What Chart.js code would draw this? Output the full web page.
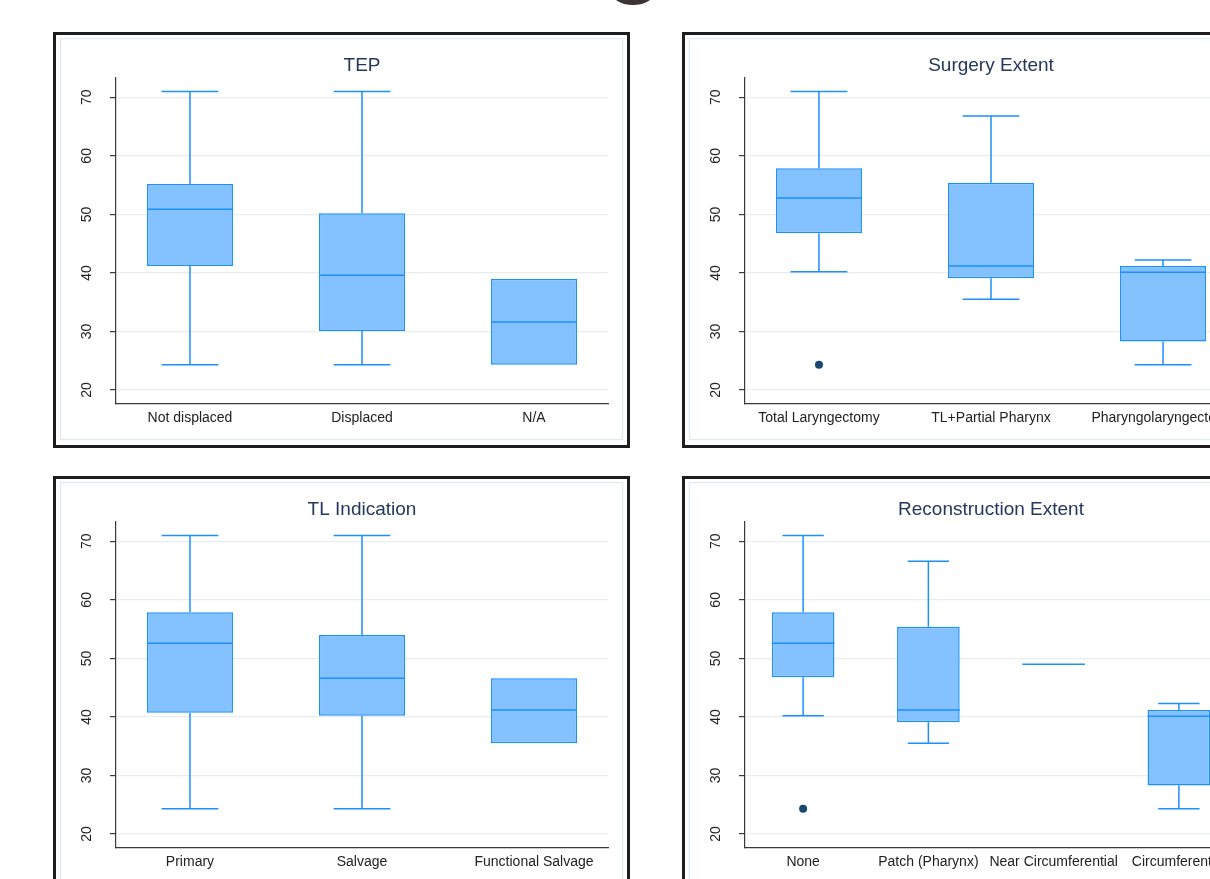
<!DOCTYPE html>
<html>
<head>
<meta charset="utf-8">
<title>Age by clinical group</title>
<script src="https://cdn.jsdelivr.net/npm/chart.js@4.4.1/dist/chart.umd.min.js"></script>
<style>
  html, body { margin: 0; padding: 0; background: #ffffff; }
  body { width: 1210px; height: 879px; overflow: hidden; position: relative; }
  .panel { position: absolute; width: 577px; height: 416px; box-sizing: border-box;
           border: 3px solid #1d1d1d; background: #ffffff; }
  .panel canvas { position: absolute; left: 0; top: 0; }
  .cap-mark { position: absolute; left: 613px; top: -17px; width: 40px; height: 22px;
              border-radius: 50%; background: #3b3432; }
</style>
</head>
<body>
<div class="cap-mark"></div>
<div class="panel" style="left:53px;top:32px"><canvas id="tep" width="571" height="410"></canvas></div>
<div class="panel" style="left:682px;top:32px"><canvas id="surgery" width="571" height="410"></canvas></div>
<div class="panel" style="left:53px;top:476px"><canvas id="indication" width="571" height="410"></canvas></div>
<div class="panel" style="left:682px;top:476px"><canvas id="reconstruction" width="571" height="410"></canvas></div>

<script>
// Shared value axis (age, years)
const yTicks = [20, 30, 40, 50, 60, 70];

// TEP
const tepGroups = ['Not displaced', 'Displaced', 'N/A'];
const tepLow    = [24.3, 24.3, 24.3];
const tepQ1     = [41.2, 30.1, 24.3];
const tepMedian = [50.9, 39.6, 31.6];
const tepQ3     = [55.2, 50.2, 39.0];
const tepHigh   = [71.0, 71.0, 39.0];
const tepOutliers = [];

// Surgery Extent
const surgeryGroups = ['Total Laryngectomy', 'TL+Partial Pharynx', 'Pharyngolaryngectomy'];
const surgeryLow    = [40.2, 35.5, 24.3];
const surgeryQ1     = [46.8, 39.1, 28.3];
const surgeryMedian = [52.8, 41.2, 40.1];
const surgeryQ3     = [57.9, 55.4, 41.2];
const surgeryHigh   = [71.0, 66.8, 42.2];
const surgeryOutliers = [{ x: 1, y: 24.3 }];

// TL Indication
const indicationGroups = ['Primary', 'Salvage', 'Functional Salvage'];
const indicationLow    = [24.3, 24.3, 35.5];
const indicationQ1     = [40.7, 40.2, 35.5];
const indicationMedian = [52.6, 46.6, 41.2];
const indicationQ3     = [57.9, 54.0, 46.6];
const indicationHigh   = [71.0, 71.0, 46.6];
const indicationOutliers = [];

// Reconstruction Extent
const reconGroups = ['None', 'Patch (Pharynx)', 'Near Circumferential', 'Circumferential'];
const reconLow    = [40.2, 35.5, 49.0, 24.3];
const reconQ1     = [46.8, 39.1, 49.0, 28.3];
const reconMedian = [52.6, 41.2, 49.0, 40.1];
const reconQ3     = [57.9, 55.4, 49.0, 41.2];
const reconHigh   = [71.0, 66.6, 49.0, 42.3];
const reconOutliers = [{ x: 1, y: 24.3 }];

const FONT = "'Liberation Sans', Arial, Helvetica, sans-serif";
const BOX_FILL = '#83c1ff';
const BOX_LINE = '#1e8fff';
const DOT = '#1a476f';
const AXIS = '#3a3a3a';
const GRID = '#e8eef0';
const INNER_FRAME = '#e3ebee';
const TITLE = '#25375c';
const TEXT = '#222222';

function boxExtras(title, stats) {
  return {
    id: 'boxExtras',
    beforeDraw(chart) {
      const ctx = chart.ctx;
      ctx.save();
      ctx.strokeStyle = INNER_FRAME;
      ctx.lineWidth = 1.5;
      ctx.strokeRect(4.5, 3.5, 562, 401);
      ctx.restore();
    },
    afterDatasetsDraw(chart) {
      const xs = chart.scales.x, ys = chart.scales.y, ctx = chart.ctx;
      ctx.save();
      ctx.strokeStyle = BOX_LINE;
      ctx.lineWidth = 1.5;
      ctx.lineCap = 'butt';
      for (let i = 0; i < stats.low.length; i++) {
        const pos = i + 1;
        const cx = xs.getPixelForValue(pos);
        const boxHalf = xs.getPixelForValue(pos + 0.25) - cx;
        const capHalf = xs.getPixelForValue(pos + 0.165) - cx;
        const yLow = ys.getPixelForValue(stats.low[i]);
        const yQ1 = ys.getPixelForValue(stats.q1[i]);
        const yQ3 = ys.getPixelForValue(stats.q3[i]);
        const yHigh = ys.getPixelForValue(stats.high[i]);
        const yMed = ys.getPixelForValue(stats.median[i]);
        ctx.beginPath();
        // upper whisker: stem and cap
        if (stats.high[i] > stats.q3[i]) {
          ctx.moveTo(cx, yQ3); ctx.lineTo(cx, yHigh);
          ctx.moveTo(cx - capHalf, yHigh); ctx.lineTo(cx + capHalf, yHigh);
        }
        // lower whisker: stem and cap
        if (stats.low[i] < stats.q1[i]) {
          ctx.moveTo(cx, yQ1); ctx.lineTo(cx, yLow);
          ctx.moveTo(cx - capHalf, yLow); ctx.lineTo(cx + capHalf, yLow);
        }
        // median
        ctx.moveTo(cx - boxHalf, yMed); ctx.lineTo(cx + boxHalf, yMed);
        ctx.stroke();
      }
      ctx.restore();
    },
    afterDraw(chart) {
      const ctx = chart.ctx, area = chart.chartArea, ys = chart.scales.y;
      ctx.save();
      ctx.fillStyle = TITLE;
      ctx.font = '19px ' + FONT;
      ctx.textAlign = 'center';
      ctx.textBaseline = 'alphabetic';
      ctx.fillText(title, (area.left + area.right) / 2, 36);
      ctx.fillStyle = TEXT;
      ctx.font = '14px ' + FONT;
      ctx.textBaseline = 'middle';
      yTicks.forEach(v => {
        const py = ys.getPixelForValue(v);
        ctx.save();
        ctx.translate(31, py);
        ctx.rotate(-Math.PI / 2);
        ctx.fillText(String(v), 0, 0);
        ctx.restore();
      });
      ctx.restore();
    }
  };
}

function boxPanel(id, title, groups, low, q1, median, q3, high, outliers, xMin, xMax) {
  const stats = { low, q1, median, q3, high };
  return new Chart(document.getElementById(id), {
    type: 'bar',
    data: {
      datasets: [
        {
          type: 'bar',
          data: groups.map((g, i) => ({ x: i + 1, y: [q1[i], q3[i]] })),
          backgroundColor: BOX_FILL,
          borderColor: BOX_LINE,
          borderWidth: 1.5,
          borderSkipped: false,
          barPercentage: 0.5,
          categoryPercentage: 1,
          order: 2
        },
        {
          type: 'scatter',
          data: outliers,
          pointRadius: 4,
          pointBackgroundColor: DOT,
          pointBorderColor: DOT,
          pointBorderWidth: 0,
          order: 1
        }
      ]
    },
    options: {
      responsive: false,
      animation: false,
      events: [],
      layout: { padding: { top: 43, right: 19, left: 0, bottom: 0 } },
      plugins: {
        legend: { display: false },
        tooltip: { enabled: false },
        title: { display: false }
      },
      scales: {
        x: {
          type: 'linear',
          min: xMin,
          max: xMax,
          offset: false,
          grid: { display: false, drawTicks: false },
          border: { display: true, color: AXIS, width: 1.2 },
          afterBuildTicks: s => { s.ticks = groups.map((g, i) => ({ value: i + 1 })); },
          afterFit: s => { s.height = 41; },
          ticks: {
            callback: v => groups[v - 1],
            autoSkip: false,
            minRotation: 0,
            maxRotation: 0,
            padding: 6,
            color: TEXT,
            font: { family: FONT, size: 14 }
          }
        },
        y: {
          type: 'linear',
          min: 17.61,
          max: 73.3,
          afterBuildTicks: s => { s.ticks = yTicks.map(v => ({ value: v })); },
          afterFit: s => { s.width = 60; },
          grid: { color: GRID, lineWidth: 1.2, drawTicks: true, tickLength: 6, tickColor: AXIS, tickWidth: 1.2 },
          border: { display: true, color: AXIS, width: 1.2 },
          ticks: { display: false }
        }
      }
    },
    plugins: [boxExtras(title, stats)]
  });
}

boxPanel('tep', 'TEP', tepGroups, tepLow, tepQ1, tepMedian, tepQ3, tepHigh, tepOutliers, 0.57, 3.43);
boxPanel('surgery', 'Surgery Extent', surgeryGroups, surgeryLow, surgeryQ1, surgeryMedian, surgeryQ3, surgeryHigh, surgeryOutliers, 0.57, 3.43);
boxPanel('indication', 'TL Indication', indicationGroups, indicationLow, indicationQ1, indicationMedian, indicationQ3, indicationHigh, indicationOutliers, 0.57, 3.43);
boxPanel('reconstruction', 'Reconstruction Extent', reconGroups, reconLow, reconQ1, reconMedian, reconQ3, reconHigh, reconOutliers, 0.536, 4.464);
</script>
</body>
</html>
